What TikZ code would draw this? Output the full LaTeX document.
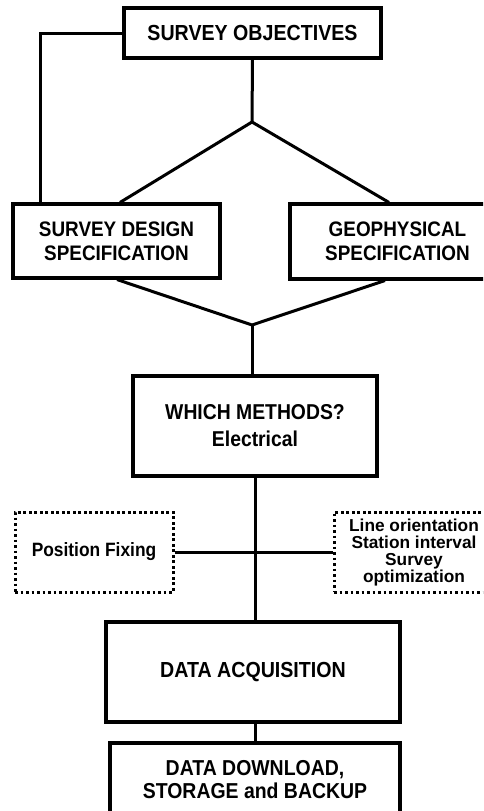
\documentclass[tikz,border=0pt]{standalone}
\usepackage{fontspec}
\setmainfont{Liberation Sans}
\newfontfamily\cf[FakeStretch=0.9]{Liberation Sans}
\usetikzlibrary{calc}
\begin{document}
\begin{tikzpicture}[x=1pt,y=-1pt,
  box/.style={draw,line width=3.1pt,rectangle,align=center,inner sep=0pt},
  dotbox/.style={draw,line width=3pt,dash pattern=on 2.6pt off 2.9pt,rectangle,align=center,inner sep=0pt},
  conn/.style={line width=3pt}]
\useasboundingbox (0,0) rectangle (483,811);
\clip (0,0) rectangle (483,811);
\fill[white] (0,0) rectangle (483,811);
\node[box,minimum width=257pt,minimum height=50pt,font=\cf\bfseries\fontsize{21.8}{22}\selectfont] (so) at (252.5,33) {SURVEY OBJECTIVES};
\node[box,minimum width=207pt,minimum height=74pt,font=\cf\bfseries\fontsize{21}{24}\selectfont] (sds) at (116.5,241) {SURVEY DESIGN\\SPECIFICATION};
\node[box,minimum width=215pt,minimum height=75pt,font=\cf\bfseries\fontsize{21}{24}\selectfont] (geo) at (397.5,241.5) {GEOPHYSICAL\\SPECIFICATION};
\node[box,minimum width=244pt,minimum height=100pt,font=\cf\bfseries\fontsize{21.5}{27}\selectfont] (wm) at (255,426) {WHICH METHODS?\\Electrical};
\node[dotbox,minimum width=158pt,minimum height=80pt,font=\cf\bfseries\fontsize{19.3}{20}\selectfont] (pf) at (94,552) {Position Fixing};
\node[dotbox,minimum width=160pt,minimum height=80pt] (lo) at (414,552) {};
\node[align=center,inner sep=0pt,font=\bfseries\fontsize{17.3}{17}\selectfont] (lot) at (414,553) {Line orientation\\Station interval\\Survey\\optimization};
\node[box,minimum width=294pt,minimum height=100pt,font=\cf\bfseries\fontsize{21.8}{22}\selectfont] (da) at (253,672) {DATA ACQUISITION};
\node[box,minimum width=290pt,minimum height=74pt,font=\cf\bfseries\fontsize{21.6}{23}\selectfont] (dd) at (255,780) {DATA DOWNLOAD,\\STORAGE and BACKUP};
\coordinate (j1) at (252,122);
\coordinate (j2) at (252,325);
\draw[conn] (so.west) -| ([xshift=29pt]sds.north west);
\draw[conn] (so.south) -- (j1);
\draw[conn] (j1) -- ([xshift=3.5pt]sds.north);
\draw[conn] (j1) -- ([xshift=-8.5pt]geo.north);
\draw[conn] ([xshift=0.5pt]sds.south) -- (j2);
\draw[conn] ([xshift=-12.5pt]geo.south) -- (j2);
\draw[conn] (j2) -- (j2 |- wm.north);
\draw[conn] (wm.south) -- (wm.south |- da.north);
\draw[conn] (pf.east) -- (lo.west);
\draw[conn] ([xshift=2pt]da.south) -- ([xshift=2pt]da.south |- dd.north);
\end{tikzpicture}
\end{document}
